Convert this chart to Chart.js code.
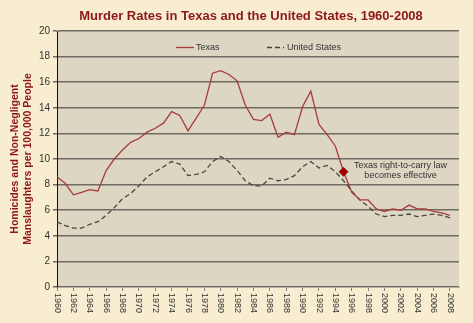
<!DOCTYPE html>
<html>
<head>
<meta charset="utf-8">
<script src="https://cdn.jsdelivr.net/npm/chart.js@4.4.0/dist/chart.umd.min.js"></script>
<style>
html,body{margin:0;padding:0;background:#f8ecd1;}
#wrap{width:473px;height:323px;position:relative;background:#f8ecd1;}
</style>
</head>
<body>
<div id="wrap"><canvas id="c" width="473" height="323"></canvas></div>
<script>
const years = [1960,1961,1962,1963,1964,1965,1966,1967,1968,1969,1970,1971,1972,1973,1974,1975,1976,1977,1978,1979,1980,1981,1982,1983,1984,1985,1986,1987,1988,1989,1990,1991,1992,1993,1994,1995,1996,1997,1998,1999,2000,2001,2002,2003,2004,2005,2006,2007,2008];
const texas = [8.6,8.1,7.2,7.4,7.6,7.5,9.1,10.0,10.7,11.3,11.6,12.1,12.4,12.8,13.7,13.4,12.2,13.2,14.2,16.7,16.9,16.6,16.1,14.2,13.1,13.0,13.5,11.7,12.1,11.9,14.1,15.3,12.7,11.9,11.0,9.0,7.4,6.8,6.8,6.1,5.9,6.1,6.0,6.4,6.1,6.1,5.9,5.8,5.6];
const unitedStates = [5.1,4.8,4.6,4.6,4.9,5.1,5.6,6.2,6.9,7.3,7.9,8.6,9.0,9.4,9.8,9.6,8.7,8.8,9.0,9.8,10.2,9.8,9.1,8.3,7.9,7.9,8.5,8.3,8.4,8.7,9.4,9.8,9.3,9.5,9.0,8.3,7.5,6.8,6.3,5.7,5.5,5.6,5.6,5.7,5.5,5.6,5.7,5.6,5.4];
const seriesNames = ["Texas","United States"];
const markerYear = 1995;
const annotationLines = ["Texas right-to-carry law","becomes effective"];
const titleText = "Murder Rates in Texas and the United States, 1960-2008";
const yTitle = ["Homicides and Non-Negligent","Manslaughters per 100,000 People"];

const FONT = "'Liberation Sans', Arial, sans-serif";

const bgPlugin = {
  id: 'bg',
  beforeDraw(chart) {
    const {ctx, chartArea: a} = chart;
    ctx.save();
    ctx.fillStyle = '#f8ecd1';
    ctx.fillRect(0,0,chart.width,chart.height);
    ctx.fillStyle = '#dcd6c3';
    ctx.fillRect(a.left, a.top, a.right - a.left, a.bottom - a.top);
    ctx.restore();
  }
};

const overlayPlugin = {
  id: 'overlay',
  afterDraw(chart) {
    const {ctx, chartArea: a} = chart;
    const xs = chart.scales.x;
    ctx.save();
    // title
    ctx.fillStyle = '#8c1818';
    ctx.font = "bold 13px " + FONT;
    ctx.textAlign = 'center';
    ctx.textBaseline = 'middle';
    ctx.fillText(titleText, 251, 16);
    // x tick labels rotated clockwise
    ctx.fillStyle = '#333';
    ctx.font = "9px " + FONT;
    ctx.textAlign = 'left';
    ctx.textBaseline = 'middle';
    xs.ticks.forEach(t => {
      if (t.value % 2 !== 0 || t.value > 2008) return;
      const px = xs.getPixelForValue(t.value);
      ctx.save();
      ctx.translate(px, a.bottom + 6);
      ctx.rotate(Math.PI/2);
      ctx.fillText(String(t.value), 0, 0);
      ctx.restore();
    });
    // legend
    const ly = a.top + 16.5;
    ctx.lineWidth = 1.3;
    ctx.strokeStyle = '#a83c3c';
    ctx.setLineDash([]);
    ctx.beginPath(); ctx.moveTo(176, ly); ctx.lineTo(194, ly); ctx.stroke();
    ctx.fillStyle = '#333';
    ctx.fillText(seriesNames[0], 196, ly);
    ctx.strokeStyle = '#4a4540';
    ctx.setLineDash([5,3]);
    ctx.beginPath(); ctx.moveTo(267, ly); ctx.lineTo(284, ly); ctx.stroke();
    ctx.setLineDash([]);
    ctx.fillText(seriesNames[1], 287, ly);
    // annotation
    const i = years.indexOf(markerYear);
    const mx = xs.getPixelForValue(markerYear);
    const my = chart.scales.y.getPixelForValue(texas[i]);
    ctx.textAlign = 'center';
    ctx.fillText(annotationLines[0], mx + 57, my - 6);
    ctx.fillText(annotationLines[1], mx + 57, my + 4);
    ctx.restore();
  }
};

new Chart(document.getElementById('c'), {
  type: 'line',
  data: {
    datasets: [
      {
        label: seriesNames[0],
        data: years.map((y,i)=>({x:y, y:texas[i]})),
        borderColor: '#a83c3c',
        borderWidth: 1.3,
        tension: 0,
        fill: false,
        pointStyle: 'rectRot',
        pointRadius: ctx => (ctx.raw && ctx.raw.x === markerYear) ? 4 : 0,
        pointBackgroundColor: '#a00000',
        pointBorderColor: '#a00000',
        pointHoverRadius: 0
      },
      {
        label: seriesNames[1],
        data: years.map((y,i)=>({x:y, y:unitedStates[i]})),
        borderColor: '#4a4540',
        borderWidth: 1.3,
        borderDash: [5,3],
        tension: 0,
        fill: false,
        pointRadius: 0
      }
    ]
  },
  options: {
    responsive: false,
    animation: false,
    devicePixelRatio: 1,
    layout: { padding: { left: 0, right: 14, top: 31, bottom: 0 } },
    plugins: {
      legend: { display: false },
      tooltip: { enabled: false },
      title: { display: false }
    },
    scales: {
      x: {
        type: 'linear',
        min: 1960,
        max: 2009.1,
        afterFit(s) { s.height = 36; },
        ticks: { stepSize: 2, includeBounds: false, display: false },
        grid: { display: true, drawOnChartArea: false, drawTicks: true, tickLength: 4, color: '#8a857c' },
        border: { display: true, color: '#b4ae9e', width: 1 }
      },
      y: {
        min: 0,
        max: 20,
        afterFit(s) { s.width = 57; },
        ticks: { stepSize: 2, color: '#333', font: { family: FONT, size: 10 }, padding: 3 },
        grid: { color: '#6f6a62', lineWidth: 1.5, tickLength: 4, drawTicks: true },
        border: { display: true, color: '#111', width: 1 },
        title: {
          display: true,
          text: yTitle,
          color: '#8c1818',
          font: { family: FONT, size: 10.5, weight: 'bold', lineHeight: 1.25 },
          padding: { top: 8.5, bottom: 0 }
        }
      }
    }
  },
  plugins: [bgPlugin, overlayPlugin]
});
</script>
</body>
</html>
